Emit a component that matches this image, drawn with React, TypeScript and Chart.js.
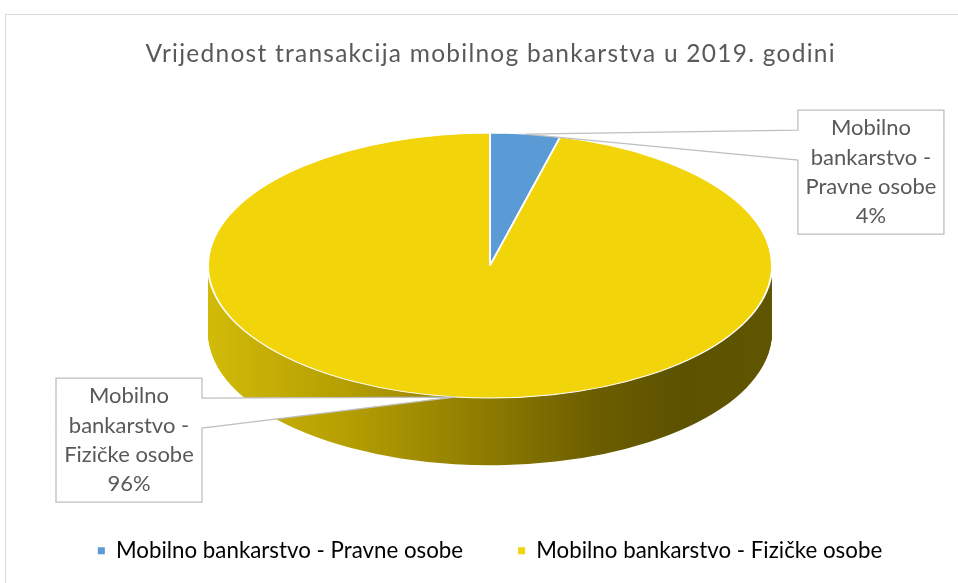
import React, { useEffect, useRef } from 'react';
import { Chart, registerables, ArcElement } from 'chart.js';

Chart.register(...registerables);

const chartTitle = 'Vrijednost transakcija mobilnog bankarstva u 2019. godini';
const categories = ['Mobilno bankarstvo - Pravne osobe', 'Mobilno bankarstvo - Fizičke osobe'];
const shares = [4, 96];
const sliceColors = ['#5B9BD5', '#F2D40B'];

const FONT = 'Lato, "Liberation Sans", sans-serif';
const TEXT = '#595959';

const sideStops: [number, string][][] = [
  [[0, '#4a80b0'], [1, '#2a4a66']],
  [[0, '#d2ba08'], [0.25, '#b49e02'], [0.5, '#8c7a00'], [0.7, '#6a5c00'], [0.84, '#5c5200'], [1, '#605500']],
];

const framePlugin = {
  id: 'frame',
  beforeDraw(chart: any) {
    const ctx = chart.ctx;
    ctx.save();
    ctx.strokeStyle = '#d9d9d9';
    ctx.lineWidth = 1;
    ctx.strokeRect(0.5, 0.5, chart.width - 1, chart.height - 1);
    ctx.restore();
  },
};

const titlePlugin = {
  id: 'spacedTitle',
  afterDraw(chart: any, _args: any, opts: any) {
    const ctx = chart.ctx;
    ctx.save();
    ctx.font = `${opts.size}px ${FONT}`;
    (ctx as any).letterSpacing = opts.letterSpacing + 'px';
    ctx.fillStyle = TEXT;
    ctx.textAlign = 'center';
    ctx.textBaseline = 'alphabetic';
    const cx = (chart.chartArea.left + chart.chartArea.right) / 2;
    ctx.fillText(opts.text, cx + opts.letterSpacing / 2, opts.baseline);
    ctx.restore();
  },
};

const pie3dPlugin = {
  id: 'pie3d',
  beforeDatasetsDraw(chart: any, _args: any, opts: any) {
    const meta = chart.getDatasetMeta(0);
    const arcs = meta.data as any[];
    if (!arcs.length) return false;
    const ctx = chart.ctx;
    const R = arcs[0].outerRadius;
    const cx = arcs[0].x;
    const cy = arcs[0].y;
    const tilt = opts.tilt;
    const depth = opts.depth * R;
    const ecy = chart.chartArea.top + R * tilt;
    const setT = (dy: number) => {
      ctx.translate(cx, ecy + dy);
      ctx.scale(1, tilt);
      ctx.translate(-cx, -cy);
    };
    // side walls
    arcs.forEach((el, i) => {
      const g = ctx.createLinearGradient(cx - R, 0, cx + R, 0);
      (opts.sideStops[i] || sideStops[1]).forEach(([o, c]: [number, string]) => g.addColorStop(o, c));
      const side = new (ArcElement as any)({
        x: el.x,
        y: el.y,
        startAngle: el.startAngle,
        endAngle: el.endAngle,
        circumference: el.circumference,
        innerRadius: el.innerRadius,
        outerRadius: el.outerRadius,
        options: { ...el.options, backgroundColor: g, borderWidth: 0 },
      });
      for (let d = depth; d >= 1; d -= 1) {
        ctx.save();
        setT(d);
        side.draw(ctx);
        ctx.restore();
      }
    });
    // top face
    arcs.forEach((el) => {
      ctx.save();
      setT(0);
      el.draw(ctx);
      ctx.restore();
    });
    const tips = arcs.map((el) => {
      const mid = (el.startAngle + el.endAngle) / 2;
      return { x: cx + R * Math.cos(mid), y: ecy + R * Math.sin(mid) * tilt };
    });
    chart.$pieGeom = { cx, cy: ecy, rx: R, ry: R * tilt, tips };
    return false;
  },
};

function wrapText(ctx: CanvasRenderingContext2D, text: string, maxW: number) {
  const words = text.split(' ');
  const lines: string[] = [];
  let cur = '';
  words.forEach((w) => {
    const test = cur ? cur + ' ' + w : w;
    if (ctx.measureText(test).width <= maxW || !cur) cur = test;
    else {
      lines.push(cur);
      cur = w;
    }
  });
  if (cur) lines.push(cur);
  return lines;
}

const calloutPlugin = {
  id: 'callouts',
  afterDraw(chart: any, _args: any, opts: any) {
    const geom = chart.$pieGeom;
    if (!geom) return;
    const ctx = chart.ctx;
    const total = shares.reduce((a, b) => a + b, 0);
    ctx.save();
    ctx.font = `${opts.fontSize}px ${FONT}`;
    categories.forEach((cat, i) => {
      const off = opts.offsets[i];
      const L = geom.cx + off.dx * geom.rx;
      const T = geom.cy + off.dy * geom.rx;
      const W = opts.boxW;
      const H = opts.boxH;
      const Rr = L + W;
      const B = T + H;
      const tip = geom.tips[i];
      const w1 = T + opts.wedgeTop;
      const w2 = w1 + opts.wedgeW;
      ctx.beginPath();
      if (tip.x < L) {
        ctx.moveTo(L, T);
        ctx.lineTo(Rr, T);
        ctx.lineTo(Rr, B);
        ctx.lineTo(L, B);
        ctx.lineTo(L, w2);
        ctx.lineTo(tip.x, tip.y);
        ctx.lineTo(L, w1);
        ctx.closePath();
      } else {
        ctx.moveTo(L, T);
        ctx.lineTo(Rr, T);
        ctx.lineTo(Rr, w1);
        ctx.lineTo(tip.x, tip.y);
        ctx.lineTo(Rr, w2);
        ctx.lineTo(Rr, B);
        ctx.lineTo(L, B);
        ctx.closePath();
      }
      ctx.fillStyle = '#ffffff';
      ctx.fill();
      ctx.strokeStyle = '#bfbfbf';
      ctx.lineWidth = 1.3;
      ctx.stroke();

      const lines = wrapText(ctx, cat, W - 6);
      lines.push(Math.round((shares[i] / total) * 100) + '%');
      ctx.fillStyle = TEXT;
      ctx.textAlign = 'center';
      ctx.textBaseline = 'middle';
      const lh = opts.lineHeight;
      const startY = T + H / 2 - ((lines.length - 1) * lh) / 2;
      lines.forEach((ln, k) => ctx.fillText(ln, L + W / 2, startY + k * lh));
    });
    ctx.restore();
  },
};

export default function App() {
  const ref = useRef<HTMLCanvasElement>(null);
  useEffect(() => {
    const chart = new Chart(ref.current as HTMLCanvasElement, {
      type: 'pie',
      data: {
        labels: categories,
        datasets: [
          {
            data: shares,
            backgroundColor: sliceColors,
            borderColor: '#ffffff',
            borderWidth: 2,
            radius: 282,
          } as any,
        ],
      },
      options: {
        responsive: false,
        animation: false,
        radius: 282,
        layout: { padding: { top: 119, bottom: 45, left: 0, right: 0 } },
        plugins: {
          title: { display: false },
          spacedTitle: { text: chartTitle, size: 24.5, letterSpacing: 1.25, baseline: 48 },
          legend: {
            position: 'bottom',
            labels: {
              color: TEXT,
              font: { family: FONT, size: 22.3 },
              boxWidth: 7,
              boxHeight: 7,
              padding: 55,
              generateLabels: () =>
                categories.map((c, i) => ({
                  text: c,
                  fillStyle: sliceColors[i],
                  strokeStyle: sliceColors[i],
                  lineWidth: 0,
                  hidden: false,
                  index: i,
                })),
            },
          },
          tooltip: { enabled: false },
          pie3d: { tilt: 0.47, depth: 0.238, sideStops },
          callouts: {
            fontSize: 22,
            lineHeight: 29.3,
            boxW: 146,
            boxH: 124,
            wedgeTop: 20,
            wedgeW: 30,
            offsets: [
              { dx: 1.092, dy: -0.551 },
              { dx: -1.539, dy: 0.399 },
            ],
          },
        } as any,
      } as any,
      plugins: [framePlugin, pie3dPlugin, calloutPlugin, titlePlugin],
    });
    return () => chart.destroy();
  }, []);
  return (
    <div style={{ position: 'fixed', left: 0, top: 0, width: 958, height: 583, overflow: 'hidden', background: '#fff' }}>
      <canvas
        ref={ref}
        width={970}
        height={603}
        style={{ position: 'absolute', left: 5, top: 14, width: 970, height: 603 }}
      />
    </div>
  );
}
